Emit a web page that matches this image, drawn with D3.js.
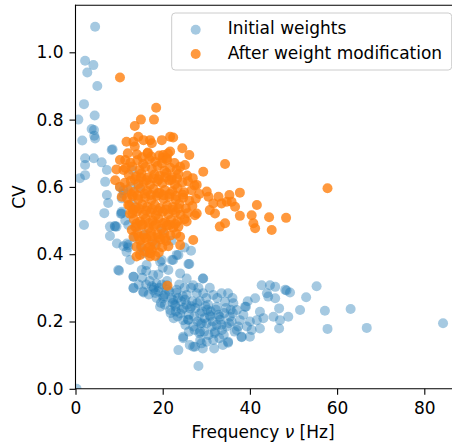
<!DOCTYPE html>
<html>
<head>
<meta charset="utf-8">
<script src="https://cdn.jsdelivr.net/npm/d3@7"></script>
<style>
  html, body { margin: 0; padding: 0; background: #fff; }
  svg { display: block; font-family: "DejaVu Sans", sans-serif; }
</style>
</head>
<body>
<svg id="chart" width="452" height="446"></svg>
<script>
// ---------- DATA ----------
const seriesNames = ["Initial weights", "After weight modification"];
const xTicks = [0, 20, 40, 60, 80];
const yTicks = [0.0, 0.2, 0.4, 0.6, 0.8, 1.0];

const initFreq = [
  4.5, 2.2, 4.1, 2.7, 5.0, 1.95, 4.4, 0.65, 3.7, 4.25, 4.5, 1.55, 4.3, 8.5, 2.2, 4.2, 6.0, 2.2, 2.2, 1.0,
  7.2, 6.8, 7.2, 7.5, 6.6, 1.95, 10.4, 7.9, 9.0, 9.5, 11.8, 10.0, 13.3, 15.6, 13.3, 0.25,
  7.9, 9.4, 11.0, 12.1, 10.6, 11.4, 11.0, 10.2, 8.3, 11.0, 10.6, 10.6, 9.1, 12.1, 11.7, 18.2, 15.6, 17.1, 19.8, 23.2, 12.1,
  9.8, 13.3, 13.3, 15.5, 12.5, 15.2, 16.3, 19.4, 22.1, 23.6, 25.9, 21.3, 17.8, 18.6, 17.8, 20.9, 23.2, 24.0, 25.5, 27.0,
  29.3, 29.3, 20.1, 22.4, 25.5, 27.8, 19.4, 21.7, 24.0, 26.3, 28.6, 31.6, 33.5, 35.0, 34.3, 36.2, 37.0, 32.4, 30.8, 33.1,
  35.4, 37.7, 38.9, 30.1, 32.4, 34.7, 37.0, 39.3, 24.7, 27.0, 28.6, 28.6, 30.1, 31.6, 27.4, 23.6, 28.2, 24.7, 35.0, 38.1,
  40.4, 41.6, 42.3, 42.7, 44.6, 44.2, 41.2, 42.3, 46.7, 45.4, 46.9, 51.5, 48.8, 55.3, 52.9, 57.2, 57.8, 48.4, 49.2, 63.1,
  66.8, 84.3, 45.8, 48.1, 43.9, 45.8, 46.7, 43.1, 39.1, 27.0, 28.9, 24.7, 35.0, 38.1, 40.0, 26.1, 22.4, 29.2,
  17.0, 18.0, 19.0, 19.8, 20.5, 21.5, 22.0, 22.8, 23.5, 24.2, 24.8, 25.5, 26.0, 26.8, 27.5, 28.0, 28.5, 29.0, 29.6, 30.4,
  31.0, 31.5, 32.0, 32.8, 33.5, 34.0, 34.5, 35.8, 36.5, 29.5, 30.5, 33.0, 26.0, 25.2, 22.5, 23.0, 20.5, 18.6, 16.8, 16.2,
  21.0, 23.8, 26.5, 28.2, 30.8, 32.5, 36.0, 38.5, 40.0, 39.5, 31.8, 29.2, 26.2, 33.8, 30.0, 25.0, 14.5, 15.3, 19.0, 20.0, 16.2,
  14.0, 16.0, 13.0, 14.5, 20.0, 22.0, 25.0, 26.5, 15.0, 13.5, 12.6, 13.0,
  17.5, 18.3, 19.2, 20.2, 21.1, 22.3, 23.1, 24.4, 25.1, 25.8, 26.6, 27.2, 27.9, 28.7, 29.8, 30.9, 31.3, 32.2, 33.2, 34.1,
  35.2, 36.1, 37.3, 19.6, 21.8, 23.4, 24.6, 27.3, 29.0, 30.2, 31.9, 33.6, 35.6, 22.9, 25.9, 28.4
];
const initCV = [
  1.076, 0.975, 0.962, 0.94, 0.90, 0.846, 0.812, 0.80, 0.772, 0.769, 0.744, 0.738, 0.752, 0.712, 0.685, 0.685, 0.673, 0.665, 0.635, 0.626,
  0.65, 0.615, 0.576, 0.552, 0.522, 0.487, 0.52, 0.454, 0.484, 0.432, 0.432, 0.351, 0.333, 0.286, 0.30, 0.0,
  0.482, 0.482, 0.424, 0.42, 0.521, 0.50, 0.58, 0.60, 0.71, 0.59, 0.566, 0.526, 0.482, 0.487, 0.407, 0.432, 0.403, 0.403, 0.383, 0.398, 0.427,
  0.353, 0.333, 0.299, 0.289, 0.383, 0.353, 0.368, 0.378, 0.383, 0.398, 0.371, 0.353, 0.338, 0.313, 0.294, 0.308, 0.294, 0.343, 0.328, 0.308,
  0.328, 0.284, 0.269, 0.264, 0.279, 0.284, 0.244, 0.234, 0.224, 0.239, 0.224, 0.279, 0.284, 0.284, 0.259, 0.254, 0.234, 0.244, 0.219, 0.214,
  0.214, 0.204, 0.244, 0.195, 0.19, 0.185, 0.175, 0.185, 0.204, 0.185, 0.17, 0.145, 0.14, 0.145, 0.125, 0.115, 0.068, 0.155, 0.14, 0.155,
  0.175, 0.204, 0.229, 0.308, 0.308, 0.274, 0.269, 0.179, 0.179, 0.214, 0.204, 0.234, 0.214, 0.305, 0.272, 0.232, 0.178, 0.292, 0.286, 0.237,
  0.181, 0.195, 0.303, 0.294, 0.284, 0.269, 0.239, 0.21, 0.244, 0.125, 0.135, 0.15, 0.137, 0.153, 0.155, 0.371, 0.383, 0.328,
  0.32, 0.30, 0.29, 0.31, 0.28, 0.29, 0.27, 0.25, 0.27, 0.26, 0.24, 0.25, 0.22, 0.26, 0.24, 0.20, 0.26, 0.23, 0.21, 0.25,
  0.23, 0.20, 0.17, 0.22, 0.19, 0.16, 0.24, 0.20, 0.17, 0.17, 0.16, 0.15, 0.17, 0.19, 0.21, 0.23, 0.25, 0.27, 0.28, 0.31,
  0.32, 0.31, 0.30, 0.30, 0.30, 0.27, 0.27, 0.22, 0.20, 0.26, 0.12, 0.12, 0.13, 0.13, 0.27, 0.30, 0.31, 0.33, 0.34, 0.36, 0.35,
  0.48, 0.46, 0.55, 0.60, 0.47, 0.44, 0.42, 0.41, 0.42, 0.45, 0.60, 0.65,
  0.305, 0.285, 0.300, 0.275, 0.295, 0.255, 0.285, 0.235, 0.265, 0.205, 0.245, 0.215, 0.255, 0.195, 0.245, 0.215, 0.185, 0.235, 0.205, 0.225,
  0.195, 0.225, 0.185, 0.255, 0.225, 0.215, 0.275, 0.175, 0.195, 0.235, 0.165, 0.175, 0.235, 0.245, 0.205, 0.165
];

const modFreq = [
  10.2, 18.5, 15.0, 18.0, 13.6, 14.4, 11.7, 13.3, 13.6, 15.6, 17.1, 17.5, 19.8, 21.7, 22.4, 24.5, 26.1, 21.7, 20.1, 20.9,
  25.1, 29.3, 34.3, 10.2, 9.4, 9.1, 10.2, 10.6, 12.1, 12.5, 12.9, 13.3, 14.0, 14.8, 17.1, 17.1, 23.6, 24.0, 24.0, 25.5,
  27.4, 27.8, 30.1, 30.5, 31.6, 32.0, 33.5, 34.7, 33.1, 34.3, 32.8, 35.3, 35.8, 37.7, 36.6, 37.7, 41.6, 40.4, 40.8, 41.2,
  44.4, 48.3, 45.0, 30.8, 27.8, 27.0, 57.8, 21.1, 12.0, 16.5, 11.0, 11.4, 14.0, 17.1,
  14.1, 15.3, 16.6, 17.4, 19.2, 20.0, 21.2,
  12.6, 14.2, 15.5, 16.9, 18.3, 19.8, 21.0, 22.7,
  11.5, 13.0, 14.7, 16.0, 17.5, 18.8, 20.4, 21.7, 23.2, 24.0,
  12.2, 13.9, 15.1, 16.6, 18.1, 19.3, 20.9, 22.1, 23.6, 25.6, 26.9,
  11.3, 12.7, 14.4, 15.7, 17.1, 18.7, 19.9, 21.5, 22.8, 24.5, 25.8, 27.3,
  12.0, 13.4, 14.9, 16.4, 17.9, 19.3, 20.5, 22.2, 23.4, 24.9, 26.6, 28.4,
  11.8, 13.1, 14.4, 16.0, 17.4, 18.6, 20.2, 21.5, 23.0, 24.7, 26.1, 27.6,
  12.4, 13.8, 15.3, 16.5, 18.2, 19.4, 21.0, 22.3, 23.8, 25.3, 26.8,
  13.0, 14.1, 15.6, 17.2, 18.4, 20.0, 21.3, 22.9, 24.1, 25.7,
  13.4, 14.8, 16.1, 17.7, 19.0, 20.6, 21.9, 23.4, 25.0,
  13.7, 15.2, 16.8, 18.0, 19.7, 21.0, 22.4,
  14.2, 15.7, 17.3, 18.8, 20.3, 21.8, 23.1,
  14.8, 16.3, 17.6, 19.5, 20.8,
  15.1, 16.7, 18.4, 19.9, 21.3,
  15.9, 17.5, 19.1, 18.3,
  13.6, 15.0, 16.3, 17.8, 19.1, 20.6, 22.0, 23.3,
  12.9, 14.3, 15.9, 17.3, 18.9, 20.2, 21.6, 23.1, 24.6,
  13.3, 14.6, 16.2, 17.6, 19.0, 20.7, 22.3, 23.7,
  14.0, 15.4, 16.9, 18.5, 20.1, 21.6, 22.9,
  14.5, 16.0, 17.5, 19.1, 20.5
];
const modCV = [
  0.925, 0.835, 0.80, 0.80, 0.781, 0.749, 0.734, 0.734, 0.72, 0.739, 0.739, 0.73, 0.739, 0.749, 0.747, 0.715, 0.695, 0.705, 0.695, 0.685,
  0.665, 0.645, 0.668, 0.68, 0.652, 0.62, 0.60, 0.571, 0.546, 0.52, 0.472, 0.452, 0.422, 0.398, 0.422, 0.403, 0.482, 0.452, 0.427, 0.497,
  0.516, 0.606, 0.586, 0.571, 0.551, 0.521, 0.551, 0.556, 0.482, 0.492, 0.571, 0.576, 0.556, 0.583, 0.541, 0.514, 0.546, 0.516, 0.492, 0.477,
  0.51, 0.508, 0.472, 0.531, 0.521, 0.442, 0.596, 0.306, 0.70, 0.70, 0.65, 0.68, 0.393, 0.393,
  0.697, 0.688, 0.702, 0.690, 0.693, 0.686, 0.699,
  0.672, 0.679, 0.668, 0.682, 0.674, 0.670, 0.680, 0.671,
  0.656, 0.661, 0.650, 0.659, 0.653, 0.662, 0.648, 0.657, 0.651, 0.660,
  0.636, 0.631, 0.640, 0.628, 0.637, 0.633, 0.641, 0.629, 0.638, 0.634, 0.626,
  0.612, 0.618, 0.609, 0.615, 0.606, 0.616, 0.611, 0.619, 0.607, 0.613, 0.617, 0.604,
  0.592, 0.585, 0.596, 0.588, 0.594, 0.583, 0.591, 0.587, 0.597, 0.584, 0.590, 0.579,
  0.566, 0.572, 0.563, 0.569, 0.561, 0.573, 0.564, 0.570, 0.562, 0.568, 0.559, 0.565,
  0.545, 0.539, 0.548, 0.541, 0.546, 0.537, 0.544, 0.540, 0.549, 0.536, 0.543,
  0.521, 0.527, 0.518, 0.524, 0.516, 0.526, 0.519, 0.525, 0.517, 0.522,
  0.503, 0.497, 0.505, 0.499, 0.506, 0.495, 0.502, 0.498, 0.504,
  0.481, 0.486, 0.478, 0.484, 0.476, 0.485, 0.479,
  0.462, 0.457, 0.465, 0.459, 0.463, 0.456, 0.461,
  0.441, 0.446, 0.438, 0.444, 0.439,
  0.425, 0.419, 0.427, 0.421, 0.424,
  0.408, 0.412, 0.405, 0.395,
  0.623, 0.628, 0.620, 0.626, 0.622, 0.629, 0.621, 0.625,
  0.578, 0.574, 0.580, 0.576, 0.581, 0.575, 0.579, 0.573, 0.577,
  0.532, 0.535, 0.530, 0.534, 0.529, 0.533, 0.531, 0.536,
  0.491, 0.488, 0.493, 0.489, 0.492, 0.487, 0.490,
  0.452, 0.449, 0.453, 0.450, 0.448
];

// ---------- LAYOUT ----------
const plot = { left: 75.5, top: 5.2, bottom: 388.8 };
const xMax = 88, yMax = 1.14;
const blue = "#1f77b4", orange = "#ff7f0e";
const fontSize = 17;

const svg = d3.select("#chart");
const x = d3.scaleLinear().domain([0, xMax]).range([plot.left, plot.left + 4.36 * xMax]);
const y = d3.scaleLinear().domain([0, yMax]).range([plot.bottom, plot.top]);

svg.append("defs").append("clipPath").attr("id", "clip")
  .append("rect")
  .attr("x", plot.left).attr("y", plot.top)
  .attr("width", x(xMax) - plot.left).attr("height", plot.bottom - plot.top);

const pts = svg.append("g").attr("clip-path", "url(#clip)");

const initData = initFreq.map((f, i) => ({ f, cv: initCV[i] }));
const modData = modFreq.map((f, i) => ({ f, cv: modCV[i] }));

pts.append("g").selectAll("circle").data(initData).join("circle")
  .attr("cx", d => x(d.f)).attr("cy", d => y(d.cv)).attr("r", 5)
  .attr("fill", blue).attr("fill-opacity", 0.4);

pts.append("g").selectAll("circle").data(modData).join("circle")
  .attr("cx", d => x(d.f)).attr("cy", d => y(d.cv)).attr("r", 5)
  .attr("fill", orange).attr("fill-opacity", 0.8);

// ---------- AXES ----------
const xAxis = svg.append("g").attr("transform", `translate(0,${plot.bottom})`)
  .call(d3.axisBottom(x).tickValues(xTicks).tickFormat(d3.format("d")).tickSize(6).tickPadding(7).tickSizeOuter(0));
const yAxis = svg.append("g").attr("transform", `translate(${plot.left},0)`)
  .call(d3.axisLeft(y).tickValues(yTicks).tickFormat(d3.format(".1f")).tickSize(6).tickPadding(6).tickSizeOuter(0));

[xAxis, yAxis].forEach(a => {
  a.select(".domain").remove();
  a.selectAll("line").attr("stroke", "#000").attr("stroke-width", 1.1);
  a.selectAll("text").attr("fill", "#000").style("font-size", fontSize + "px")
    .style("font-family", "'DejaVu Sans', sans-serif");
});

// spines
const spines = svg.append("g").attr("stroke", "#000").attr("stroke-width", 1.1).attr("stroke-linecap", "square");
spines.append("line").attr("x1", plot.left).attr("x2", plot.left).attr("y1", plot.top).attr("y2", plot.bottom);
spines.append("line").attr("x1", plot.left).attr("x2", x(xMax)).attr("y1", plot.bottom).attr("y2", plot.bottom);
spines.append("line").attr("x1", plot.left).attr("x2", x(xMax)).attr("y1", plot.top).attr("y2", plot.top);

// axis labels
const xl = svg.append("text").attr("x", 263).attr("y", 437.5).attr("text-anchor", "middle")
  .style("font-size", fontSize + "px");
xl.append("tspan").text("Frequency ");
xl.append("tspan").style("font-style", "italic").text("ν");
xl.append("tspan").text(" [Hz]");

svg.append("text").attr("transform", `translate(25,${(plot.top + plot.bottom) / 2}) rotate(-90)`)
  .attr("text-anchor", "middle").style("font-size", fontSize + "px").text("CV");

// ---------- LEGEND ----------
const lg = svg.append("g");
lg.append("rect").attr("x", 171.7).attr("y", 13).attr("width", 280).attr("height", 57)
  .attr("rx", 3.5).attr("fill", "#fff").attr("fill-opacity", 0.8)
  .attr("stroke", "#cccccc").attr("stroke-width", 1);
const legendRows = [
  { name: seriesNames[0], color: blue, op: 0.4, cy: 29.7 },
  { name: seriesNames[1], color: orange, op: 0.8, cy: 54 }
];
legendRows.forEach(r => {
  lg.append("circle").attr("cx", 195.7).attr("cy", r.cy).attr("r", 5)
    .attr("fill", r.color).attr("fill-opacity", r.op);
  lg.append("text").attr("x", 227.7).attr("y", r.cy + 4.5)
    .style("font-size", fontSize + "px").text(r.name);
});
</script>
</body>
</html>
